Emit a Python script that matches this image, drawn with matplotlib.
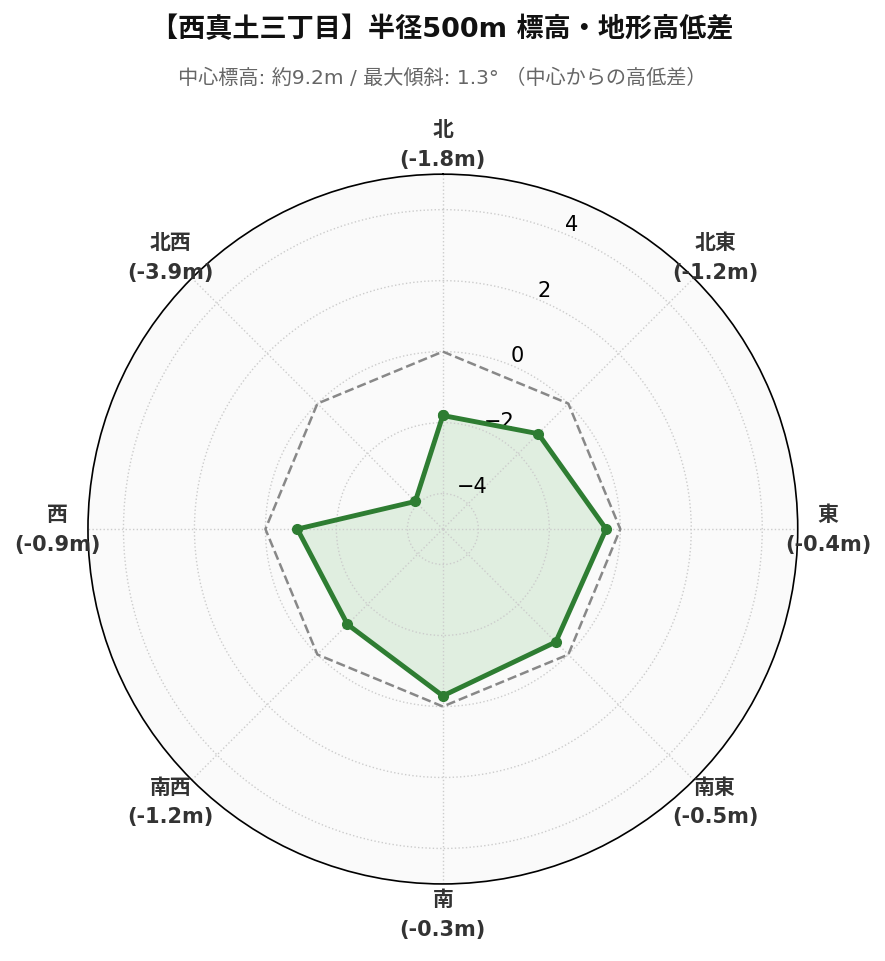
import numpy as np
import matplotlib
matplotlib.use('Agg')
import matplotlib.pyplot as plt

plt.rcParams['font.family'] = ['DejaVu Sans', 'Noto Sans CJK JP']

directions = ['北', '北東', '東', '南東', '南', '南西', '西', '北西']
diffs = [-1.8, -1.2, -0.4, -0.5, -0.3, -1.2, -0.9, -3.9]
base = [0, 0, 0, 0, 0, 0, 0, 0]
rticks = [-4, -2, 0, 2, 4]

green = '#2e7d32'

fig = plt.figure(figsize=(8.85, 9.62), dpi=100)
ax = fig.add_axes([0.0994, 0.080, 0.802, 0.738], projection='polar')
ax.set_facecolor('#fafafa')
ax.set_theta_zero_location('N')
ax.set_theta_direction(-1)

angles = np.deg2rad(np.arange(len(directions)) * 45)
a_closed = np.append(angles, angles[0])
d_closed = np.append(diffs, diffs[0])
b_closed = np.append(base, base[0])

ax.plot(a_closed, b_closed, color='#888888', lw=1.8, ls='--')
ax.fill(a_closed, d_closed, color='#4caf50', alpha=0.15)
ax.plot(a_closed, d_closed, color=green, lw=3.5, marker='o', ms=7)

ax.set_ylim(-5, 5)
ax.set_yticks(rticks)
ax.set_yticklabels([f'{t}'.replace('-', '\u2212') for t in rticks], fontsize=15)
ax.set_rlabel_position(22.5)
ax.set_xticks(angles)
ax.set_xticklabels([])
ax.grid(color='#cccccc', ls=':', lw=1)
ax.spines['polar'].set_color('black')
ax.spines['polar'].set_linewidth(1.2)

for a, name, d in zip(angles, directions, diffs):
    ax.text(a, 5.85, f'{name}\n({d:.1f}m)', ha='center', va='center',
            fontsize=15, fontweight='bold', color='#333333', clip_on=False,
            linespacing=1.6)

fig.text(0.5, 0.969, '【西真土三丁目】半径500m 標高・地形高低差', ha='center', va='center',
         fontsize=19.5, fontweight='bold', color='#111111')
fig.text(0.5, 0.919, '中心標高: 約9.2m / 最大傾斜: 1.3° （中心からの高低差）', ha='center',
         va='center', fontsize=14.5, color='#666666')

fig.savefig('out.png', dpi=100)
